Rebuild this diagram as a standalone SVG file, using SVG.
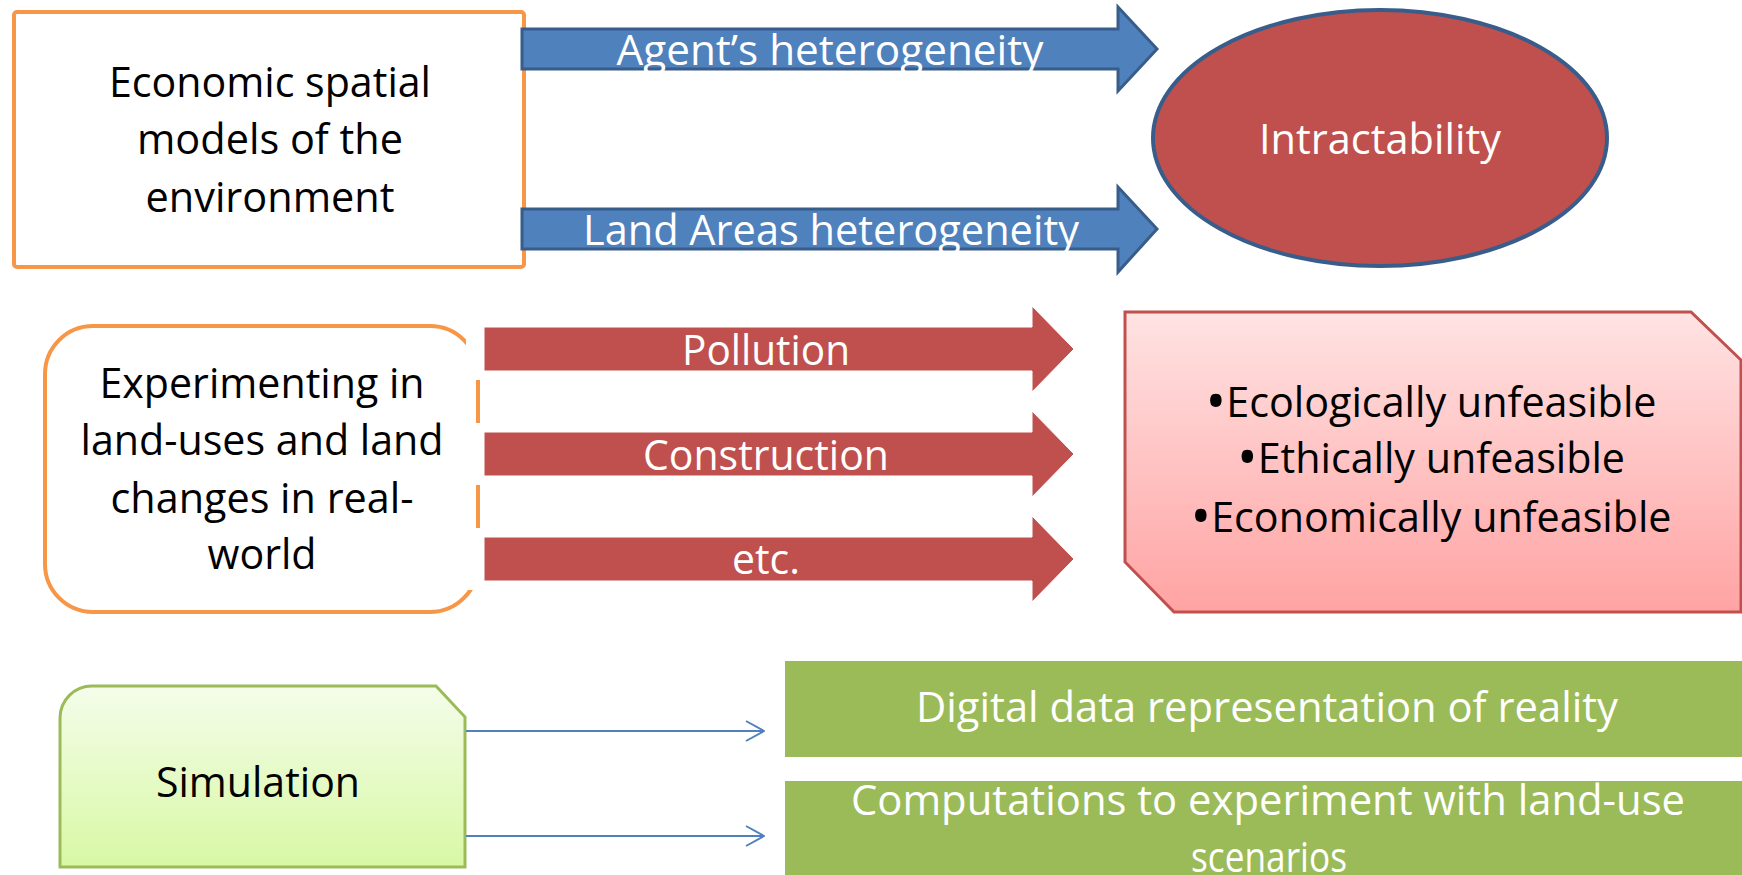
<svg xmlns="http://www.w3.org/2000/svg" width="1742" height="875" viewBox="0 0 1742 875">
  <defs>
    <linearGradient id="pinkFill" x1="0" y1="0" x2="0" y2="1">
      <stop offset="0" stop-color="#FFE3E3"/>
      <stop offset="1" stop-color="#FFA3A3"/>
    </linearGradient>
    <linearGradient id="limeFill" x1="0" y1="0" x2="0" y2="1">
      <stop offset="0" stop-color="#F4FDEA"/>
      <stop offset="1" stop-color="#D8F8A4"/>
    </linearGradient>
    <marker id="chevron" viewBox="0 0 20 22" refX="19" refY="11" markerWidth="20" markerHeight="22" markerUnits="userSpaceOnUse" orient="auto">
      <path d="M1,1 L19,11 L1,21" fill="none" stroke="#4F81BD" stroke-width="2"/>
    </marker>
  </defs>
  <style>
    text { font-family: "Open Sans", "Liberation Sans", sans-serif; font-size: 42px; text-anchor: middle; }
    .dark { fill: #000000; }
    .light { fill: #FFFFFF; }
    .bullet { font-size: 56px; }
    .orangeBox { fill: #FFFFFF; stroke: #F79646; stroke-width: 4; }
    .blueArrow { fill: #4F81BD; stroke: #385D8A; stroke-width: 3; stroke-linejoin: miter; }
    .redArrow { fill: #C0504D; stroke: #FFFFFF; stroke-width: 1; }
    .link { fill: none; stroke: #4F81BD; stroke-width: 2; marker-end: url(#chevron); }
    .greenBar { fill: #9BBB59; }
  </style>

  <rect width="1742" height="875" fill="#FFFFFF"/>

  <!-- top row: models of the environment -->
  <g id="economic-models">
    <rect class="orangeBox" x="14" y="12" width="510" height="255" rx="3"/>
    <text class="dark" x="270" y="97" textLength="322" lengthAdjust="spacingAndGlyphs">Economic spatial</text>
    <text class="dark" x="270" y="154" textLength="266" lengthAdjust="spacingAndGlyphs">models of the</text>
    <text class="dark" x="270" y="212" textLength="249" lengthAdjust="spacingAndGlyphs">environment</text>
  </g>

  <g id="intractability">
    <ellipse cx="1380" cy="138" rx="227" ry="128" fill="#C0504D" stroke="#385D8A" stroke-width="4"/>
    <text class="light" x="1380" y="154" textLength="242" lengthAdjust="spacingAndGlyphs">Intractability</text>
  </g>

  <!-- middle row: real-world experimentation -->
  <g id="real-world">
    <rect class="orangeBox" x="45" y="326" width="433" height="286" rx="48"/>
    <text class="dark" x="262" y="398" textLength="325" lengthAdjust="spacingAndGlyphs">Experimenting in</text>
    <text class="dark" x="262" y="455" textLength="363" lengthAdjust="spacingAndGlyphs">land-uses and land</text>
    <text class="dark" x="262" y="513" textLength="303" lengthAdjust="spacingAndGlyphs">changes in real-</text>
    <text class="dark" x="262" y="569" textLength="109" lengthAdjust="spacingAndGlyphs">world</text>
  </g>

  <g id="unfeasible">
    <path d="M1125,312 L1691,312 L1741,360 L1741,612 L1174,612 L1125,562 Z" fill="url(#pinkFill)" stroke="#C0504D" stroke-width="3"/>
    <text class="dark" x="1431" y="417" textLength="451" lengthAdjust="spacingAndGlyphs"><tspan class="bullet" dy="4">•</tspan><tspan dy="-4">Ecologically unfeasible</tspan></text>
    <text class="dark" x="1431" y="473" textLength="388" lengthAdjust="spacingAndGlyphs"><tspan class="bullet" dy="4">•</tspan><tspan dy="-4">Ethically unfeasible</tspan></text>
    <text class="dark" x="1431" y="532" textLength="481" lengthAdjust="spacingAndGlyphs"><tspan class="bullet" dy="4">•</tspan><tspan dy="-4">Economically unfeasible</tspan></text>
  </g>

  <!-- bottom row: simulation -->
  <g id="simulation">
    <path d="M60,867 L60,718 A32,32 0 0 1 92,686 L436,686 L465,717 L465,867 Z" fill="url(#limeFill)" stroke="#9BBB59" stroke-width="3"/>
    <text class="dark" x="258" y="797" textLength="204" lengthAdjust="spacingAndGlyphs">Simulation</text>
  </g>

  <g id="digital-data">
    <rect class="greenBar" x="785" y="661" width="957" height="96"/>
    <text class="light" x="1267" y="722" textLength="702" lengthAdjust="spacingAndGlyphs">Digital data representation of reality</text>
  </g>

  <g id="computations">
    <rect class="greenBar" x="785" y="781" width="957" height="94"/>
    <text class="light" x="1268" y="815" textLength="834" lengthAdjust="spacingAndGlyphs">Computations to experiment with land-use</text>
    <text class="light" x="1269" y="872" textLength="156" lengthAdjust="spacingAndGlyphs">scenarios</text>
  </g>

  <!-- connectors -->
  <g id="connectors">
    <!-- heterogeneity arrows -->
    <polygon class="blueArrow" points="522,29 1118,29 1118,7 1157,49 1118,91 1118,69 522,69"/>
    <text class="light" x="830" y="65" textLength="427" lengthAdjust="spacingAndGlyphs">Agent’s heterogeneity</text>
    <polygon class="blueArrow" points="522,209 1118,209 1118,187 1157,229 1118,272 1118,249 522,249"/>
    <text class="light" x="831" y="245" textLength="496" lengthAdjust="spacingAndGlyphs">Land Areas heterogeneity</text>

    <!-- white clearance where the red shafts meet the rounded box -->
    <rect x="466" y="318" width="30" height="62" fill="#FFFFFF"/>
    <rect x="466" y="423" width="30" height="62" fill="#FFFFFF"/>
    <rect x="466" y="528" width="30" height="62" fill="#FFFFFF"/>

    <polygon class="redArrow" points="484,327 1032,327 1032,306 1074,349 1032,392 1032,371 484,371"/>
    <text class="light" x="766" y="365" textLength="168" lengthAdjust="spacingAndGlyphs">Pollution</text>
    <polygon class="redArrow" points="484,432 1032,432 1032,411 1074,454 1032,497 1032,476 484,476"/>
    <text class="light" x="766" y="470" textLength="246" lengthAdjust="spacingAndGlyphs">Construction</text>
    <polygon class="redArrow" points="484,537 1032,537 1032,516 1074,559 1032,602 1032,581 484,581"/>
    <text class="light" x="766" y="574" textLength="68" lengthAdjust="spacingAndGlyphs">etc.</text>

    <!-- simulation links -->
    <line class="link" x1="466" y1="731" x2="764" y2="731"/>
    <line class="link" x1="466" y1="836" x2="764" y2="836"/>
  </g>
</svg>
